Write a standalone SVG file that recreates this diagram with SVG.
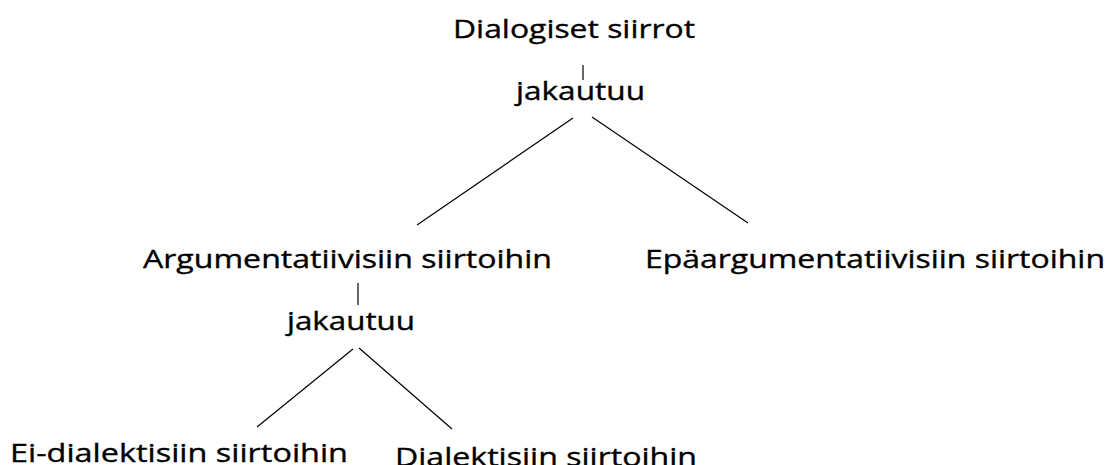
<svg xmlns="http://www.w3.org/2000/svg" width="1111" height="465" viewBox="0 0 1111 465">
<style>
text{font-family:"Open Sans","Noto Sans",sans-serif;font-size:25px;fill:#000;stroke:#000;stroke-width:0.35}
.c line{stroke:#000;stroke-width:1.2}
</style>
<rect width="1111" height="465" fill="#fff"/>
<g id="n-dialogiset"><text x="453" y="38" textLength="242" lengthAdjust="spacingAndGlyphs">Dialogiset siirrot</text></g>
<g id="n-jakautuu1"><text x="516" y="100" textLength="129" lengthAdjust="spacingAndGlyphs">jakautuu</text></g>
<g id="n-argumentatiivisiin"><text x="143" y="268" textLength="409" lengthAdjust="spacingAndGlyphs">Argumentatiivisiin siirtoihin</text></g>
<g id="n-epaargumentatiivisiin"><text x="645" y="268" textLength="460" lengthAdjust="spacingAndGlyphs">Epäargumentatiivisiin siirtoihin</text></g>
<g id="n-jakautuu2"><text x="287" y="330" textLength="128" lengthAdjust="spacingAndGlyphs">jakautuu</text></g>
<g id="n-eidialektisiin"><text x="10" y="462" textLength="338" lengthAdjust="spacingAndGlyphs">Ei-dialektisiin siirtoihin</text></g>
<g id="n-dialektisiin"><text x="395" y="466" textLength="302" lengthAdjust="spacingAndGlyphs">Dialektisiin siirtoihin</text></g>
<g id="connectors" class="c">
<line x1="583" y1="65" x2="583" y2="80"/>
<line x1="573" y1="118" x2="417" y2="225"/>
<line x1="592" y1="117" x2="748" y2="223"/>
<line x1="358" y1="283" x2="358" y2="305"/>
<line x1="353" y1="349" x2="257" y2="427"/>
<line x1="359" y1="348" x2="452" y2="429"/>
</g>
</svg>
